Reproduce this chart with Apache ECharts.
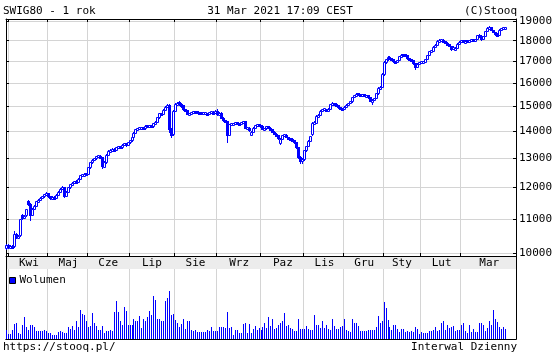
<!DOCTYPE html>
<html><head><meta charset="utf-8">
<script src="https://cdn.jsdelivr.net/npm/echarts@6/dist/echarts.min.js"></script>
<style>html,body{margin:0;padding:0;background:#fff}#c{width:559px;height:357px}</style>
</head><body><div id="c"></div>
<script>
// ---------- DATA ----------
const firstDay = '2020-03-31';
const lastDay = '2021-03-31';
const holidays = ['2020-04-10','2020-04-13','2020-05-01','2020-06-11','2020-11-11',
  '2020-12-24','2020-12-25','2020-12-31','2021-01-01','2021-01-06'];
const monthNames = ['Kwi','Maj','Cze','Lip','Sie','Wrz','Paz','Lis','Gru','Sty','Lut','Mar'];
const yTicks = [10000,11000,12000,13000,14000,15000,16000,17000,18000,19000];

// [open, close, low, high]
const ohlc = [
[10150,10230,10120,10260],
// Apr
[10230,10170,10140,10250],[10170,10200,10150,10230],[10200,10180,10150,10220],[10190,10560,10180,10640],
[10560,10460,10430,10590],[10460,10500,10440,10520],[10520,10980,10500,11000],[11120,11030,11000,11150],
[11030,11080,11010,11120],[11120,11290,11100,11300],[11560,11470,11440,11580],[11460,11120,10960,11480],
[11130,11300,11110,11320],[11300,11400,11290,11420],[11400,11540,11390,11560],[11540,11600,11520,11620],
[11600,11650,11590,11670],[11650,11700,11640,11720],[11700,11770,11690,11790],[11770,11800,11750,11830],
// May
[11800,11700,11680,11810],[11700,11650,11630,11720],[11650,11680,11640,11700],[11690,11650,11630,11700],
[11650,11760,11640,11780],[11760,11850,11750,11870],[11850,11950,11840,11980],[11950,12000,11930,12030],
[12000,11720,11680,12010],[11720,11850,11700,11870],[11850,12000,11840,12020],[12000,12100,11990,12120],
[12100,12150,12080,12170],[12150,12200,12130,12220],[12200,12190,12170,12230],[12190,12280,12180,12300],
[12280,12400,12270,12420],[12400,12430,12390,12450],[12430,12450,12410,12470],[12450,12440,12420,12480],
// Jun
[12450,12680,12440,12700],[12680,12860,12670,12880],[12860,12950,12840,12970],[12950,13000,12930,13030],
[13000,13080,12990,13100],[13080,13100,13050,13130],[13100,13040,13010,13120],[13040,12720,12650,13050],
[12700,12860,12680,12900],[12860,13120,12850,13150],[13120,13250,13110,13290],[13250,13300,13230,13330],
[13300,13350,13280,13380],[13350,13300,13270,13370],[13300,13400,13290,13420],[13400,13450,13380,13470],
[13450,13400,13380,13470],[13400,13500,13390,13520],[13500,13550,13480,13570],[13550,13490,13460,13560],
[13490,13600,13480,13620],
// Jul
[13600,13660,13580,13680],[13660,13800,13650,13820],[13800,13960,13790,13980],[13960,14080,13950,14100],
[14080,14120,14060,14150],[14120,14130,14100,14160],[14130,14160,14100,14190],[14160,14120,14090,14170],
[14120,14220,14110,14240],[14220,14200,14170,14240],[14200,14230,14190,14250],[14230,14200,14170,14250],
[14200,14330,14190,14350],[14330,14380,14310,14400],[14380,14560,14370,14580],[14560,14720,14550,14740],
[14720,14700,14670,14750],[14700,14870,14690,14890],[14870,15000,14860,15020],[15000,15080,14980,15120],
[15050,14100,14000,15100],[14100,13850,13800,14150],[13900,14820,13880,14850],
// Aug
[14820,15100,14800,15130],[15100,15160,15080,15200],[15180,15120,15080,15220],[15120,15050,15000,15140],
[15050,14900,14870,15060],[14900,14850,14800,14920],[14850,14700,14680,14860],[14700,14720,14680,14740],
[14720,14750,14700,14770],[14750,14800,14740,14820],[14800,14790,14760,14820],[14790,14760,14740,14800],
[14760,14740,14720,14780],[14740,14720,14700,14760],[14720,14720,14690,14750],[14720,14730,14700,14750],
[14730,14710,14690,14750],[14710,14760,14700,14780],[14760,14780,14740,14800],[14780,14750,14720,14800],
[14750,14830,14740,14850],
// Sep
[14830,14700,14650,14900],[14700,14750,14680,14770],[14750,14550,14530,14760],[14550,14450,14420,14570],
[14450,14400,14370,14470],[14400,13850,13620,14420],[13880,14280,13860,14300],[14280,14300,14260,14330],
[14300,14330,14280,14350],[14330,14330,14300,14360],[14330,14320,14300,14350],[14320,14310,14290,14340],
[14310,14370,14300,14390],[14370,14400,14350,14420],[14400,14150,14120,14410],[14150,14150,14110,14190],
[14150,14050,14020,14160],[13880,14000,13860,14020],[14000,14150,13990,14170],[14150,14250,14130,14270],
[14250,14280,14220,14300],[14280,14250,14220,14300],
// Oct
[14250,14200,14180,14270],[14200,14100,14080,14210],[14100,14120,14080,14150],[14120,14200,14110,14220],
[14200,14150,14130,14220],[14150,14100,14070,14160],[14100,14000,13980,14110],[14000,13920,13900,14010],
[13920,13850,13820,13940],[13850,13750,13720,13860],[13560,13720,13540,13740],[13720,13850,13700,13870],
[13850,13880,13830,13900],[13880,13800,13780,13890],[13800,13750,13730,13810],[13750,13730,13710,13770],
[13730,13680,13660,13740],[13680,13600,13580,13690],[13600,13400,13380,13610],[13400,13050,13000,13410],
[13050,12920,12850,13080],[12920,12960,12820,13000],
// Nov
[12960,13300,12940,13320],[13300,13450,13280,13470],[13450,13650,13440,13670],[13650,13820,13640,13840],
[13900,14350,13880,14380],[14350,14350,14300,14400],[14350,14620,14340,14640],[14620,14650,14600,14680],
[14650,14830,14640,14850],[14830,14900,14810,14920],[14900,14900,14870,14930],[14900,14880,14850,14920],
[14880,14920,14860,14940],[14920,15100,14910,15120],[15100,15150,15080,15180],[15150,15120,15090,15170],
[15120,15050,15030,15130],[15050,14980,14950,15060],[14980,14930,14900,14990],[14930,14920,14890,14950],
// Dec
[14920,15000,14900,15020],[15000,15080,14990,15100],[15080,15150,15070,15170],[15150,15220,15140,15240],
[15220,15400,15210,15420],[15400,15480,15390,15500],[15480,15550,15470,15570],[15550,15520,15500,15570],
[15520,15500,15480,15540],[15500,15520,15490,15540],[15520,15450,15430,15530],[15450,15480,15440,15500],
[15480,15400,15380,15490],[15400,15250,15230,15410],[15250,15280,15100,15300],[15280,15350,15270,15370],
[15350,15560,15340,15580],[15560,15800,15550,15820],[15800,15850,15780,15880],[15850,16400,15840,16450],
// Jan
[16400,16950,16380,17000],[16950,17100,16930,17130],[17100,17200,17080,17230],[17200,17150,17120,17230],
[17150,17120,17090,17170],[17120,17000,16980,17130],[17000,16980,16950,17020],[16980,17050,16970,17070],
[17050,17250,17040,17270],[17250,17320,17240,17340],[17320,17300,17270,17340],[17300,17280,17250,17320],
[17280,17150,17130,17290],[17150,17120,17100,17170],[17120,17050,17030,17130],[17050,16900,16880,17060],
[16900,16750,16650,16910],[16750,16880,16740,16900],[16880,16950,16870,16970],
// Feb
[16950,16950,16920,16980],[16950,16980,16930,17000],[16980,17100,16970,17120],[17100,17300,17090,17320],
[17300,17480,17290,17500],[17480,17500,17460,17530],[17500,17700,17490,17720],[17700,17800,17690,17820],
[17800,18000,17790,18020],[18000,18050,17980,18080],[18050,18050,18020,18090],[18050,17980,17950,18060],
[17980,17900,17880,17990],[17900,17820,17800,17910],[17820,17750,17730,17830],[17750,17600,17550,17760],
[17600,17700,17590,17720],[17550,17650,17530,17670],[17650,17850,17640,17870],[17850,17950,17840,17970],
// Mar
[17950,18020,17940,18050],[18020,17950,17930,18030],[17950,18000,17940,18020],[18000,17960,17940,18010],
[17960,18010,17950,18030],[18010,18030,18000,18050],[18030,18010,17990,18040],[18010,18080,18000,18100],
[18080,18280,18070,18300],[18280,18250,18220,18310],[18250,18100,18050,18260],[18100,18220,18090,18240],
[18220,18480,18210,18500],[18480,18650,18470,18680],[18650,18680,18630,18720],[18680,18550,18520,18690],
[18550,18450,18420,18560],[18450,18350,18300,18460],[18350,18300,18280,18370],[18300,18550,18290,18570],
[18550,18620,18540,18640],[18620,18650,18600,18670],[18650,18660,18630,18690]
];

const volume = [
9,5,5,9,15,16,6,5,14,22, 12,9,14,14,12,8,8,8,8,9, 8,6,6,4,4,4,7,8,7,6,
6,12,10,13,9,18,12,29,25,24, 18,12,13,26,16,13,9,9,13,6, 8,8,9,8,27,38,27,18,14,32,
28,14,14,14,20,18,18,23,11,20, 18,22,28,24,43,39,20,20,18,18, 38,41,48,24,25,19,16,12,15,20,
10,18,18,9,8,9,7,7,7,7, 7,9,8,12,8,8,8,12,12,12, 11,27,11,12,4,9,9,6,6,15,
16,6,15,6,10,13,9,11,9,12, 16,11,22,13,20,10,11, 14,
16,18,26,13,14,11,10,8,8,20, 10,10,10,13,10,9,9,24,14,14, 11,18,11,14,10,9,20,13,10,10,
12,13,20,9,8,7,20,16,16,13, 8,8,8,8,9,9,9,9,12,23, 16,18,37,31,19,12,9,14,14,10,
7,10,10,7,8,7,8,7,12,10, 5,7,6,6,6,8,8,9,12,8, 9,16,18,9,14,11,12,13,8,9,
9,14,16,8,6,14,7,10,7,7, 16,16,14,8,11,18,14,29,20,17, 12,10,12,10
];

// ---------- BUILD ----------
function tradingDays() {
  const out = [];
  let t = Date.parse(firstDay + 'T00:00:00Z');
  const end = Date.parse(lastDay + 'T00:00:00Z');
  while (t <= end) {
    const d = new Date(t);
    const wd = d.getUTCDay();
    const s = d.toISOString().slice(0, 10);
    if (wd !== 0 && wd !== 6 && holidays.indexOf(s) < 0) out.push(s);
    t += 86400000;
  }
  return out;
}
const days = tradingDays();
const PAD = 5;
const cats = days.concat(Array.from({length: PAD}, (_, k) => 'pad' + k));

const monthStarts = [];
for (let i = 1; i < days.length; i++) {
  if (days[i].slice(5, 7) !== days[i - 1].slice(5, 7)) monthStarts.push(i);
}
const startSet = new Set(monthStarts);
const labelByCat = {};
monthStarts.forEach((s, k) => {
  const e = (k + 1 < monthStarts.length ? monthStarts[k + 1] : cats.length) - 1;
  const mid = Math.round((s + e) / 2);
  labelByCat[cats[mid]] = monthNames[k];
});

const candleData = ohlc.map((d, i) => [i, d[0], d[1], d[2], d[3]]);
const volData = volume.map((v, i) => [i, v]);

const FONT = '"DejaVu Sans Mono", monospace';
const GRIDC = '#d4d4d4';
const BLUE = '#0000ff';
const isStart = (i) => startSet.has(i);

function renderCandle(params, api) {
  const i = api.value(0);
  const o = api.value(1), c = api.value(2), l = api.value(3), h = api.value(4);
  const pO = api.coord([i, o]), pC = api.coord([i, c]);
  const pL = api.coord([i, l]), pH = api.coord([i, h]);
  const cx = Math.floor(pO[0]);
  let yTop = Math.round(Math.min(pO[1], pC[1]));
  let yBot = Math.round(Math.max(pO[1], pC[1]));
  if (yBot - yTop < 2) { const m = Math.round((yTop + yBot) / 2); yTop = m - 1; yBot = m + 1; }
  const yH = Math.round(pH[1]), yL = Math.round(pL[1]);
  const children = [{type: 'rect', shape: {x: cx, y: yH, width: 1, height: Math.max(1, yL - yH + 1)},
    style: {fill: BLUE}}];
  if (c >= o) {
    children.push({type: 'rect', shape: {x: cx - 0.5, y: yTop + 0.5, width: 2, height: yBot - yTop},
      style: {fill: '#fff', stroke: BLUE, lineWidth: 1}});
  } else {
    children.push({type: 'rect', shape: {x: cx - 1, y: yTop, width: 3, height: yBot - yTop + 1},
      style: {fill: BLUE}});
  }
  return {type: 'group', children: children};
}
function renderVol(params, api) {
  const i = api.value(0), v = api.value(1);
  const p = api.coord([i, v]), b = api.coord([i, 0]);
  const x = Math.floor(p[0]);
  const y = Math.round(p[1]), yb = Math.round(b[1]);
  return {type: 'rect', shape: {x: x, y: y, width: 1, height: yb - y}, style: {fill: BLUE}};
}

const chart = echarts.init(document.getElementById('c'), null, {renderer: 'canvas'});
chart.setOption({
  animation: false,
  backgroundColor: '#fff',
  textStyle: {fontFamily: FONT},
  grid: [
    {left: 6, right: 43, top: 19, bottom: 101},
    {left: 6, right: 43, top: 269, bottom: 18}
  ],
  legend: {
    data: ['Wolumen'], left: 9, top: 275, padding: 0,
    icon: 'rect', itemWidth: 6, itemHeight: 6, itemGap: 4,
    itemStyle: {color: BLUE, borderColor: '#000', borderWidth: 1},
    textStyle: {fontFamily: FONT, fontSize: 11, color: '#000', padding: [0, 0, 0, -1]}
  },
  xAxis: [
    {gridIndex: 0, type: 'category', data: cats, position: 'bottom', boundaryGap: true,
     axisLine: {lineStyle: {color: '#000'}},
     axisTick: {show: true, inside: true, length: 3, interval: isStart, lineStyle: {color: '#000'}},
     axisLabel: {interval: (i, v) => !!labelByCat[v], formatter: (v) => labelByCat[v] || '',
       margin: 2, fontFamily: FONT, fontSize: 11, color: '#000'},
     splitLine: {show: true, interval: isStart, lineStyle: {color: GRIDC}}},
    {gridIndex: 0, type: 'category', data: cats, position: 'top', boundaryGap: true,
     axisLine: {lineStyle: {color: '#000'}},
     axisTick: {show: true, inside: true, length: 3, interval: isStart, lineStyle: {color: '#000'}},
     axisLabel: {show: false}, splitLine: {show: false}},
    {gridIndex: 1, type: 'category', data: cats, position: 'bottom', boundaryGap: true,
     axisLine: {lineStyle: {color: '#000'}}, axisTick: {show: false}, axisLabel: {show: false},
     splitLine: {show: true, interval: isStart, lineStyle: {color: GRIDC}}},
    {gridIndex: 1, type: 'category', data: cats, position: 'top', boundaryGap: true,
     axisLine: {lineStyle: {color: '#000'}}, axisTick: {show: false}, axisLabel: {show: false},
     splitLine: {show: false}}
  ],
  yAxis: [
    {gridIndex: 0, type: 'log', logBase: 10, position: 'right', min: 9925, max: 19110,
     axisLine: {show: true, lineStyle: {color: '#000'}},
     axisTick: {show: true, inside: true, length: 3, customValues: yTicks, lineStyle: {color: '#000'}},
     axisLabel: {customValues: yTicks, formatter: (v) => String(Math.round(v)), margin: 3,
       fontFamily: FONT, fontSize: 11, color: '#000'},
     splitLine: {show: true, lineStyle: {color: GRIDC}}},
    {gridIndex: 0, type: 'log', logBase: 10, position: 'left', min: 9925, max: 19110,
     axisLine: {show: true, lineStyle: {color: '#000'}},
     axisTick: {show: true, inside: true, length: 3, customValues: yTicks, lineStyle: {color: '#000'}},
     axisLabel: {show: false}, splitLine: {show: false}},
    {gridIndex: 1, type: 'value', min: 0, max: 70, position: 'left',
     axisLine: {show: true, lineStyle: {color: '#000'}}, axisTick: {show: false},
     axisLabel: {show: false}, splitLine: {show: false}},
    {gridIndex: 1, type: 'value', min: 0, max: 70, position: 'right',
     axisLine: {show: true, lineStyle: {color: '#000'}}, axisTick: {show: false},
     axisLabel: {show: false}, splitLine: {show: false}}
  ],
  graphic: [
    {type: 'rect', z: -1, shape: {x: 6, y: 256, width: 510, height: 13}, style: {fill: '#ececec'}},
    {type: 'line', shape: {x1: 6.5, y1: 256, x2: 6.5, y2: 270}, style: {stroke: '#000', lineWidth: 1}},
    {type: 'line', shape: {x1: 516.5, y1: 256, x2: 516.5, y2: 270}, style: {stroke: '#000', lineWidth: 1}},
    {type: 'text', x: 3, y: 11.5, style: {text: 'SWIG80 - 1 rok', font: '11px ' + FONT, fill: '#000', textVerticalAlign: 'middle'}},
    {type: 'text', x: 280, y: 11.5, style: {text: '31 Mar 2021 17:09 CEST', font: '11px ' + FONT, fill: '#000', textAlign: 'center', textVerticalAlign: 'middle'}},
    {type: 'text', x: 517, y: 11.5, style: {text: '(C)Stooq', font: '11px ' + FONT, fill: '#000', textAlign: 'right', textVerticalAlign: 'middle'}},
    {type: 'text', x: 3, y: 347, style: {text: 'https://stooq.pl/', font: '11px ' + FONT, fill: '#000', textVerticalAlign: 'middle'}},
    {type: 'text', x: 517, y: 347, style: {text: 'Interwal Dzienny', font: '11px ' + FONT, fill: '#000', textAlign: 'right', textVerticalAlign: 'middle'}}
  ],
  series: [
    {name: 'SWIG80', type: 'custom', xAxisIndex: 0, yAxisIndex: 0, data: candleData,
     encode: {x: 0, y: [1, 2, 3, 4]}, renderItem: renderCandle, itemStyle: {color: BLUE}},
    {name: 'Wolumen', type: 'custom', xAxisIndex: 2, yAxisIndex: 2, data: volData,
     encode: {x: 0, y: 1}, renderItem: renderVol, itemStyle: {color: BLUE}}
  ]
});
</script>
</body></html>
